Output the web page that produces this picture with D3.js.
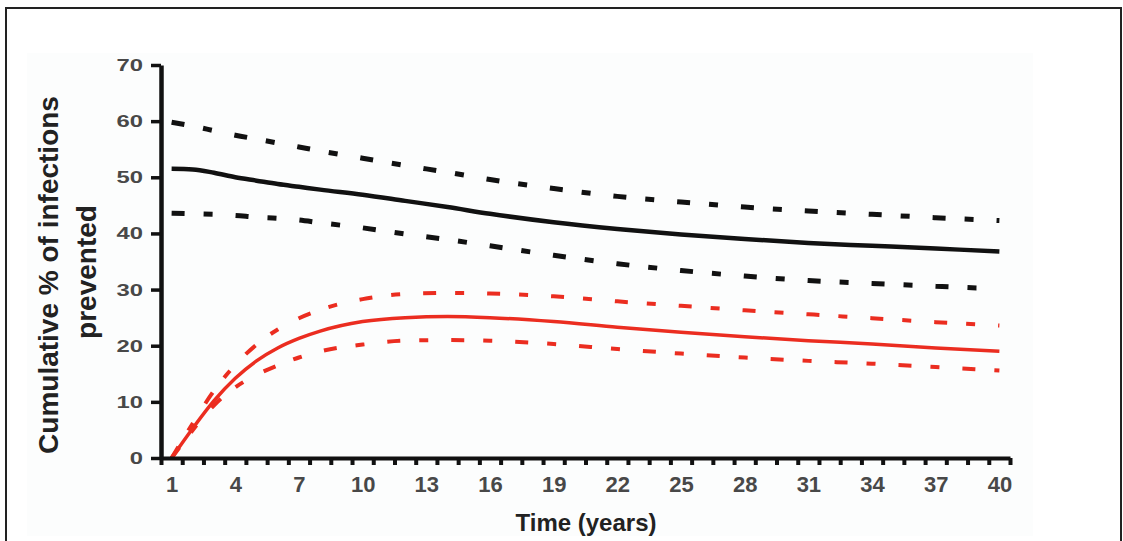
<!DOCTYPE html>
<html>
<head>
<meta charset="utf-8">
<script src="https://cdn.jsdelivr.net/npm/d3@7"></script>
<style>
  html, body { margin: 0; padding: 0; background: #fff; }
  svg { display: block; }
</style>
</head>
<body>
<script>
// values, years on x, % prevented on y
const years = [1, 2, 3, 4, 5, 6, 7, 8, 10, 12, 14, 16, 19, 22, 25, 28, 31, 34, 37, 40];
const blackMean  = [51.5, 51.4, 50.8, 50.0, 49.4, 48.8, 48.3, 47.8, 46.9, 45.8, 44.7, 43.5, 42.0, 40.8, 39.8, 39.0, 38.3, 37.8, 37.3, 36.8];
const blackUpper = [59.8, 59.1, 58.3, 57.5, 56.8, 56.1, 55.4, 54.7, 53.4, 52.1, 50.9, 49.6, 48.0, 46.6, 45.6, 44.7, 44.0, 43.4, 42.8, 42.3];
const blackLower = [43.6, 43.5, 43.4, 43.2, 42.9, 42.7, 42.4, 41.9, 41.0, 39.9, 38.9, 37.8, 36.1, 34.6, 33.4, 32.4, 31.6, 31.1, 30.6, 30.1];
const redMean  = [0, 5.3, 10.2, 14.2, 17.3, 19.6, 21.3, 22.6, 24.3, 25.0, 25.2, 25.0, 24.3, 23.3, 22.4, 21.6, 20.9, 20.3, 19.6, 19.0];
const redUpper = [0, 6.2, 12.0, 16.6, 20.2, 22.9, 24.9, 26.4, 28.3, 29.2, 29.4, 29.3, 28.8, 27.9, 27.1, 26.3, 25.6, 24.9, 24.2, 23.6];
const redLower = [0, 5.0, 9.4, 12.6, 14.8, 16.5, 17.9, 19.0, 20.2, 20.9, 21.0, 20.9, 20.3, 19.4, 18.6, 17.9, 17.3, 16.8, 16.2, 15.6];

const xLabels = [1, 4, 7, 10, 13, 16, 19, 22, 25, 28, 31, 34, 37, 40];
const yTicks = [0, 10, 20, 30, 40, 50, 60, 70];

const W = 1123, H = 541;
const red = "#eb2d20";
const dash = "13 19 9 23";
const font = "'Liberation Sans', Arial, sans-serif";

const svg = d3.select("body").append("svg")
  .attr("width", W).attr("height", H)
  .style("font-family", font);

// frame around the figure
svg.append("rect")
  .attr("x", 6).attr("y", 8).attr("width", 1115).attr("height", 560)
  .attr("fill", "none").attr("stroke", "#222").attr("stroke-width", 2);

svg.append("rect")
  .attr("x", 27).attr("y", 53).attr("width", 1006).attr("height", 483)
  .attr("fill", "#fcfdfd");

const x = d3.scaleLinear().domain([0.5, 40.5]).range([161, 1010]);
const y = d3.scaleLinear().domain([0, 70]).range([458, 65]);

const line = vals => d3.line()
  .x((d, i) => x(years[i]))
  .y(d => y(d))
  .curve(d3.curveMonotoneX)(vals);

const series = [
  { v: blackUpper, c: "#111", w: 5, d: dash },
  { v: blackLower, c: "#111", w: 5, d: dash },
  { v: blackMean, c: "#111", w: 4.5, d: null },
  { v: redUpper, c: red, w: 4, d: dash },
  { v: redLower, c: red, w: 4, d: dash },
  { v: redMean, c: red, w: 3.5, d: null }
];

svg.append("g").selectAll("path")
  .data(series)
  .join("path")
  .attr("d", s => line(s.v))
  .attr("fill", "none")
  .attr("stroke", s => s.c)
  .attr("stroke-width", s => s.w)
  .attr("stroke-dasharray", s => s.d);

// x axis: ticks between years, labels every 3 years
const halfTicks = d3.range(0.5, 40.6, 1);
svg.append("g").attr("transform", "translate(0,458)")
  .call(d3.axisBottom(x).tickValues(halfTicks).tickFormat("").tickSize(7).tickSizeOuter(0))
  .call(g => g.select(".domain").attr("stroke-width", 4).attr("stroke", "#111"))
  .call(g => g.selectAll(".tick line").attr("stroke-width", 4).attr("stroke", "#111"));

svg.append("g").attr("transform", "translate(0,458)")
  .call(d3.axisBottom(x).tickValues(xLabels).tickSize(0).tickPadding(18))
  .call(g => g.select(".domain").remove())
  .call(g => g.selectAll("text")
    .attr("font-size", 22).attr("font-weight", "bold").attr("fill", "#484848")
    .attr("font-family", font));

// y axis (labels are stretched sideways in the source picture)
const sx = 1.4;
svg.append("g").attr("transform", "translate(161,0)")
  .call(d3.axisLeft(y).tickValues(yTicks).tickSize(10).tickSizeOuter(0))
  .call(g => g.select(".domain").attr("stroke-width", 4.5).attr("stroke", "#111"))
  .call(g => g.selectAll(".tick line").attr("stroke-width", 3.5).attr("stroke", "#111"))
  .call(g => g.selectAll("text")
    .attr("x", -18 / sx)
    .attr("transform", `scale(${sx},1)`)
    .attr("font-size", 17).attr("font-weight", "bold").attr("fill", "#484848")
    .attr("font-family", font));

// titles
svg.append("text")
  .attr("transform", "translate(58,275) rotate(-90)")
  .attr("text-anchor", "middle")
  .attr("font-size", 28).attr("font-weight", "bold").attr("fill", "#222")
  .text("Cumulative % of infections");

svg.append("text")
  .attr("transform", "translate(96,272) rotate(-90)")
  .attr("text-anchor", "middle")
  .attr("font-size", 28).attr("font-weight", "bold").attr("fill", "#222")
  .text("prevented");

svg.append("text")
  .attr("x", 586).attr("y", 531)
  .attr("text-anchor", "middle")
  .attr("font-size", 24).attr("font-weight", "bold").attr("fill", "#222")
  .text("Time (years)");
</script>
</body>
</html>
